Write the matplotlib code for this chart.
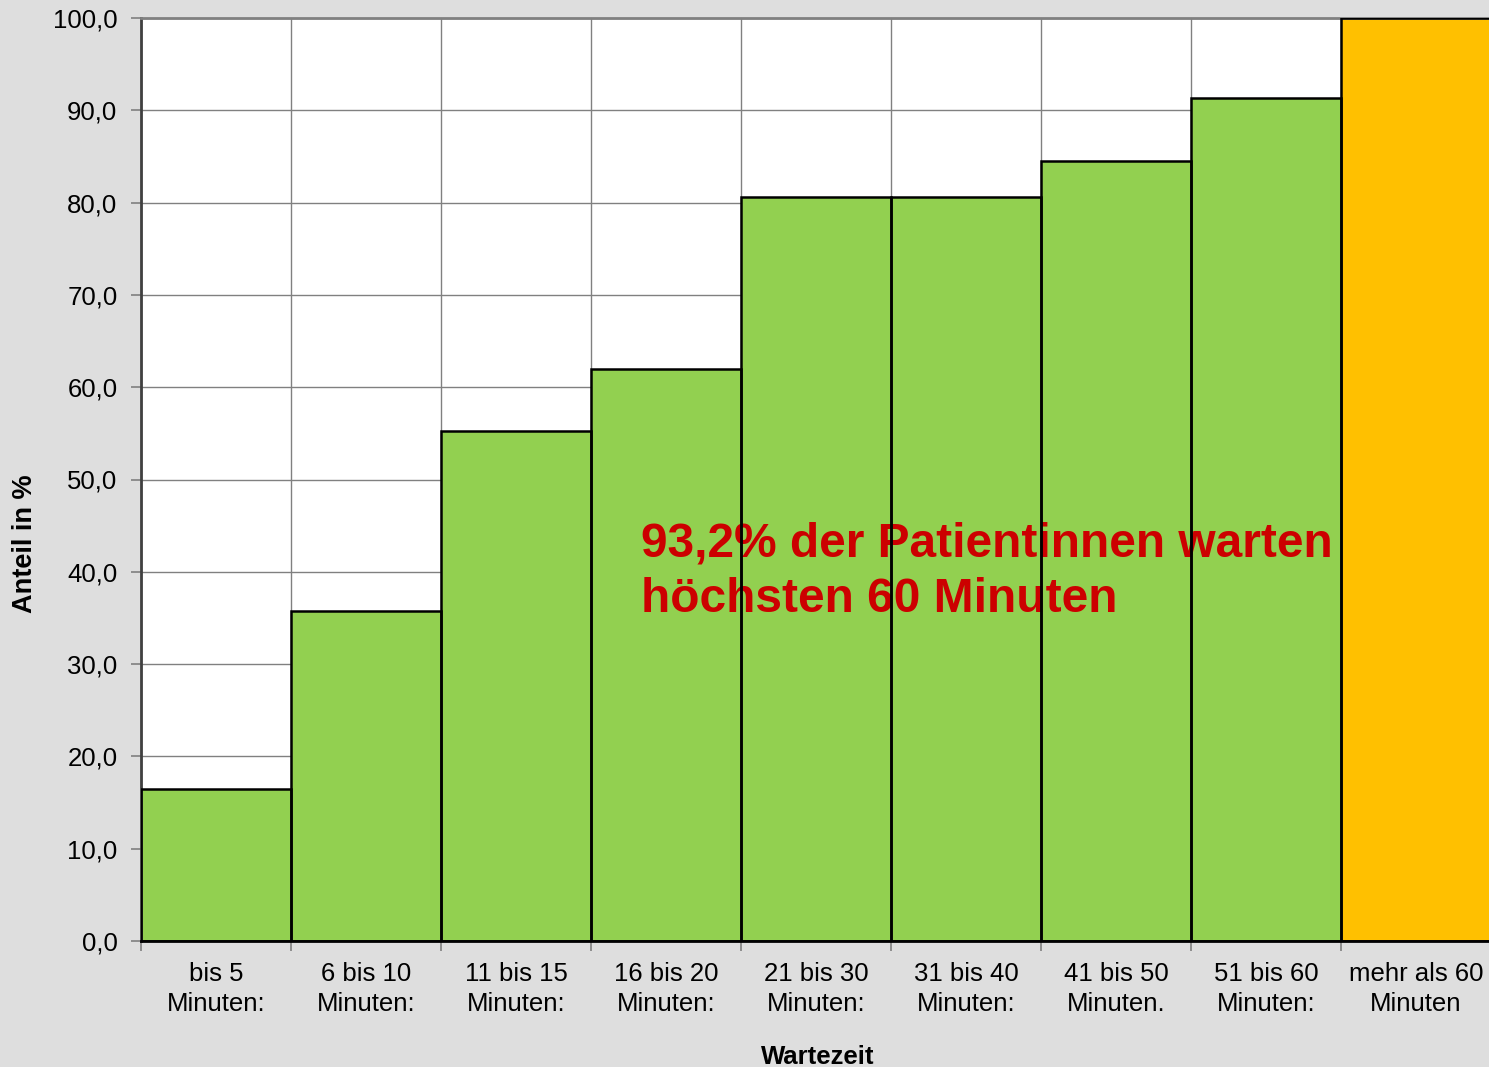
import matplotlib
matplotlib.use("Agg")
import matplotlib.pyplot as plt
from matplotlib.ticker import FixedLocator

categories = ["bis 5\nMinuten:", "6 bis 10\nMinuten:", "11 bis 15\nMinuten:", "16 bis 20\nMinuten:",
              "21 bis 30\nMinuten:", "31 bis 40\nMinuten:", "41 bis 50\nMinuten.", "51 bis 60\nMinuten:",
              "mehr als 60\nMinuten"]
values = [16.5, 35.8, 55.3, 62.0, 80.6, 80.6, 84.5, 91.3, 100.0]
colors = ["#92D050"] * 8 + ["#FFC000"]
yticks = [0, 10, 20, 30, 40, 50, 60, 70, 80, 90, 100]
annotation = "93,2% der Patientinnen warten\nhöchsten 60 Minuten"

plt.rcParams['font.family'] = ['Liberation Sans', 'DejaVu Sans']

W, H = 1489, 1067
fig = plt.figure(figsize=(W / 100, H / 100), dpi=100)
fig.patch.set_facecolor("#DEDEDE")
ax = fig.add_axes([141 / W, 1 - 941 / H, 1350 / W, 923 / H])
ax.set_facecolor("white")

x = list(range(len(values)))
ax.bar(x, values, width=1.0, color=colors, edgecolor="none", zorder=2)
ax.bar(x, values, width=1.0, color="none", edgecolor="black", linewidth=1.8, zorder=4)

ax.set_xlim(-0.5, len(values) - 0.5)
ax.set_ylim(0, 100)

ax.yaxis.set_major_locator(FixedLocator(yticks))
ax.set_yticklabels([f"{v:.1f}".replace(".", ",") for v in yticks], fontsize=18.5)
ax.xaxis.set_major_locator(FixedLocator(x))
ax.set_xticklabels(categories, fontsize=18.5, linespacing=1.35)
ax.tick_params(axis="x", length=0, pad=15)
ax.xaxis.set_minor_locator(FixedLocator([i - 0.5 for i in range(len(values) + 1)]))
ax.tick_params(axis="x", which="minor", length=7, color="#808080", width=1.2)
ax.tick_params(axis="y", length=7, color="#808080", width=1.2, pad=10)

ax.grid(axis="y", color="#808080", linewidth=1.0, zorder=1)
ax.grid(axis="x", which="minor", color="#808080", linewidth=1.0, zorder=1)
ax.grid(axis="x", which="major", visible=False)
ax.set_axisbelow(True)

ax.spines["top"].set_color("#808080")
ax.spines["top"].set_linewidth(2)
ax.spines["right"].set_visible(False)
ax.spines["left"].set_color("#404040")
ax.spines["left"].set_linewidth(2)
ax.spines["bottom"].set_color("black")
ax.spines["bottom"].set_linewidth(2)

ax.set_ylabel("Anteil in %", fontsize=19.5, fontweight="bold")
ax.yaxis.set_label_coords(-(141 - 38) / 1350, 0.43)
ax.set_xlabel("Wartezeit", fontsize=18.5, fontweight="bold")
ax.xaxis.set_label_coords((818 - 141) / 1350, -(1045 - 941) / 923)

ax.text(2.833, 40.0, annotation, fontsize=34.5, fontweight="bold", color="#CC0000",
        ha="left", va="center", linespacing=1.32, zorder=3)

fig.savefig("out.png", dpi=100, facecolor=fig.get_facecolor())
